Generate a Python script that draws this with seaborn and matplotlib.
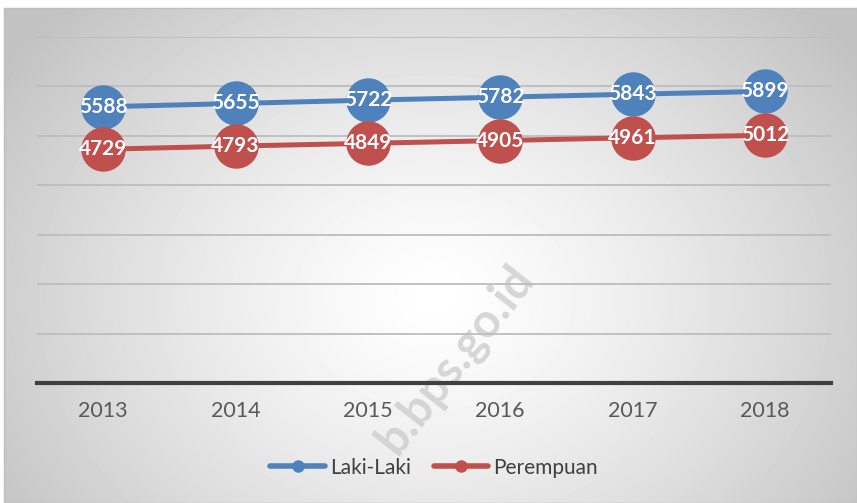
import numpy as np
import pandas as pd
import matplotlib
matplotlib.use("Agg")
import matplotlib.pyplot as plt
import seaborn as sns

years = [2013, 2014, 2015, 2016, 2017, 2018]
laki = [5588, 5655, 5722, 5782, 5843, 5899]
perempuan = [4729, 4793, 4849, 4905, 4961, 5012]
series = ["Laki-Laki", "Perempuan"]
colors = ["#4F81BD", "#C0504D"]

df = pd.DataFrame({
    "tahun": years * 2,
    "jumlah": laki + perempuan,
    "jenis": [series[0]] * len(years) + [series[1]] * len(years),
})

sns.set_theme(style="white")
plt.rcParams["font.family"] = ["Lato", "DejaVu Sans"]

fig = plt.figure(figsize=(8.57, 5.03), dpi=100)
fig.patch.set_facecolor("white")

# radial grey background with a thin border
bg = fig.add_axes([4 / 857, 0, 853 / 857, 495 / 503])
yy, xx = np.mgrid[0:495, 0:853]
r = np.sqrt(((xx - 430) / 520.0) ** 2 + ((yy - 290) / 420.0) ** 2)
shade = np.clip(1.0 - 0.24 * r ** 1.3, 0.76, 1.0)
bg.imshow(shade, cmap="gray", vmin=0, vmax=1, aspect="auto", interpolation="bilinear")
bg.set_xticks([])
bg.set_yticks([])
for s in bg.spines.values():
    s.set_color("#BFBFBF")
    s.set_linewidth(1)

# watermark
bg.text(0.529, 0.29, "b.bps.go.id", transform=bg.transAxes, rotation=52,
        fontsize=34, fontweight="bold", color="#CDCDCD", alpha=0.8,
        ha="center", va="center", zorder=5)

ax = fig.add_axes([37 / 857, 120 / 503, 794 / 857, 346 / 503])
ax.patch.set_alpha(0)

sns.lineplot(data=df, x="tahun", y="jumlah", hue="jenis", palette=colors,
             marker="o", markersize=32, linewidth=3.6, markeredgewidth=0,
             ax=ax, zorder=3)

for vals in (laki, perempuan):
    for x, v in zip(years, vals):
        ax.text(x, v, str(v), color="white", fontsize=15, fontweight="bold",
                ha="center", va="center", zorder=4)

ax.set_xlim(years[0] - 0.5, years[-1] + 0.5)
ax.set_ylim(0, 7000)
ax.set_yticks(np.arange(1000, 7001, 1000))
ax.set_yticklabels([])
ax.tick_params(axis="y", length=0)
ax.yaxis.grid(True, color="#BDBDBD", linewidth=1.3)
ax.xaxis.grid(False)
ax.set_xticks(years)
ax.set_xticklabels([str(y) for y in years], fontsize=15.5, color="#595959")
ax.tick_params(axis="x", length=0, pad=13)
ax.set_xlabel("")
ax.set_ylabel("")
for name in ["left", "right", "top"]:
    ax.spines[name].set_visible(False)
ax.spines["bottom"].set_color("#404040")
ax.spines["bottom"].set_linewidth(3)
ax.spines["bottom"].set_zorder(2)

handles, labels = ax.get_legend_handles_labels()
for h in handles:
    h.set_markersize(9)
    h.set_linewidth(4)
leg = ax.legend(handles, labels, loc="center", bbox_to_anchor=(0.5, -0.245),
                ncol=2, frameon=False, fontsize=15, handlelength=2.6,
                columnspacing=1.1, handletextpad=0.25)
for t in leg.get_texts():
    t.set_color("#404040")

fig.savefig("out.png", dpi=100)
